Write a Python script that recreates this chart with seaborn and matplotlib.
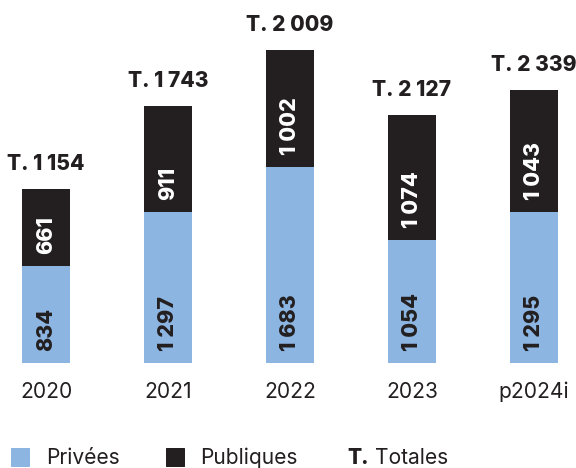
import matplotlib
matplotlib.use("Agg")
import matplotlib.pyplot as plt
import seaborn as sns
import pandas as pd
from matplotlib.patches import Rectangle

# ---- data ----
years = ["2020", "2021", "2022", "2023", "p2024i"]
privees = [834, 1297, 1683, 1054, 1295]
publiques = [661, 911, 1002, 1074, 1043]
totales_label = ["1 154", "1 743", "2 009", "2 127", "2 339"]
privees_label = ["834", "1 297", "1 683", "1 054", "1 295"]
publiques_label = ["661", "911", "1 002", "1 074", "1 043"]

BLUE = "#8cb5e1"
BLACK = "#231f20"
FONT = ["Inter", "DejaVu Sans"]

sns.set_theme(style="white")
plt.rcParams["font.family"] = FONT

df = pd.DataFrame({"annee": years, "privees": privees, "publiques": publiques})
df["stack"] = df["privees"] + df["publiques"]

fig = plt.figure(figsize=(8, 6.5), dpi=72)
ax = fig.add_axes([0, 105 / 468, 1, 363 / 468])

bw = 0.39
sns.barplot(data=df, x="annee", y="stack", color=BLACK, width=bw, linewidth=0,
            saturation=1, ax=ax)
sns.barplot(data=df, x="annee", y="privees", color=BLUE, width=bw, linewidth=0,
            saturation=1, ax=ax)

ax.set_xlim(-46 / 122, (576 - 46) / 122)
ax.set_ylim(0, 3113)
for s in ax.spines.values():
    s.set_visible(False)
ax.set_yticks([])
ax.set_xlabel("")
ax.set_ylabel("")
ax.tick_params(axis="x", length=0, pad=19, labelsize=21, colors="#231f20")

for i in range(len(years)):
    ax.annotate(privees_label[i], (i, 0), xytext=(0, 12), textcoords="offset points",
                rotation=90, ha="center", va="bottom", fontsize=21.5,
                fontweight="heavy", color=BLACK, family=FONT)
    ax.annotate(publiques_label[i], (i, privees[i]), xytext=(0, 12),
                textcoords="offset points", rotation=90, ha="center", va="bottom",
                fontsize=21.5, fontweight="heavy", color="white", family=FONT)
    ax.annotate("T. " + totales_label[i], (i, privees[i] + publiques[i]),
                xytext=(0, 19), textcoords="offset points", ha="center",
                va="baseline", fontsize=21, fontweight="heavy", color=BLACK,
                family=FONT, annotation_clip=False)

# ---- legend ----
H = 468
def px(x, y):
    return x / 576, 1 - y / H

fig.patches.append(Rectangle(px(11, 466), 18 / 576, 18 / H, color=BLUE,
                             transform=fig.transFigure, figure=fig))
fig.patches.append(Rectangle(px(166, 466), 18 / 576, 18 / H, color=BLACK,
                             transform=fig.transFigure, figure=fig))
fig.text(*px(46, 464.5), "Privées", fontsize=21, color=BLACK, va="baseline")
fig.text(*px(200, 464.5), "Publiques", fontsize=21, color=BLACK, va="baseline")
fig.text(*px(347, 464.5), "T.", fontsize=21, fontweight="heavy", color=BLACK,
         va="baseline")
fig.text(*px(375, 464.5), "Totales", fontsize=21, color=BLACK, va="baseline")

fig.savefig("out.png", dpi=72)
